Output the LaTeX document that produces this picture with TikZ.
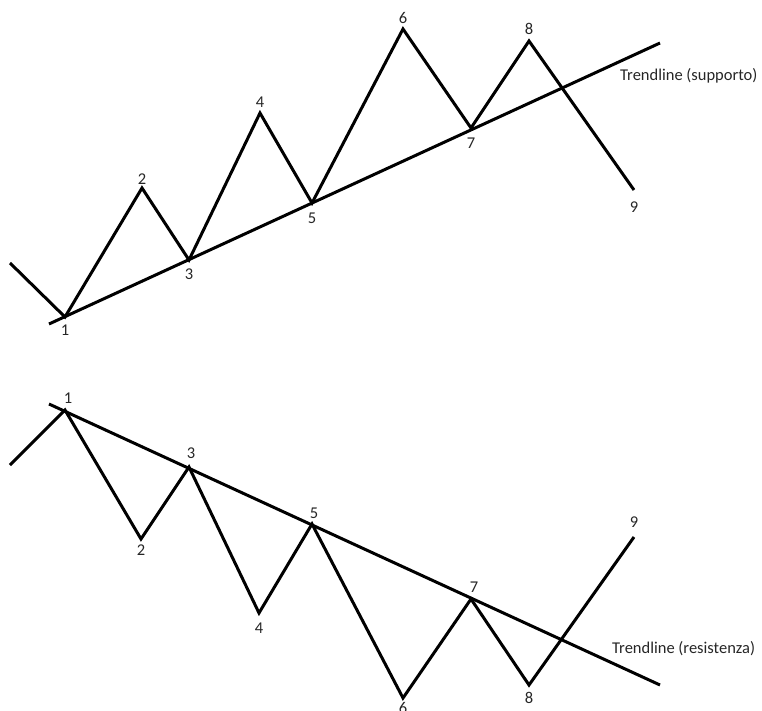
\documentclass[tikz,border=0pt]{standalone}
\usepackage{fontspec}
\setmainfont{Carlito}
\begin{document}
\begin{tikzpicture}[x=1pt,y=-1pt,
  wave/.style={line width=3pt,line join=miter,black},
  trend/.style={line width=3pt,black},
  lbl/.style={font=\fontsize{16.5}{18}\selectfont,text=black!85,inner sep=0pt}]
\useasboundingbox (0,0) rectangle (762,711);
% top chart
\coordinate (t0) at (10,263);
\coordinate (t1) at (65,317);
\coordinate (t2) at (142,188);
\coordinate (t3) at (189,260);
\coordinate (t4) at (260,113);
\coordinate (t5) at (312,203);
\coordinate (t6) at (403,29);
\coordinate (t7) at (471,128);
\coordinate (t8) at (529,41);
\coordinate (t9) at (634,190);
\coordinate (ta) at (49,324);
\coordinate (tb) at (660,43);
\draw[wave] (t0)--(t1)--(t2)--(t3)--(t4)--(t5)--(t6)--(t7)--(t8)--(t9);
\draw[trend] (ta)--(tb);
\node[lbl] (lt1) at (65,330) {1};
\node[lbl] (lt2) at (142,179) {2};
\node[lbl] (lt3) at (189,274) {3};
\node[lbl] (lt4) at (260,102) {4};
\node[lbl] (lt5) at (312,218) {5};
\node[lbl] (lt6) at (403,18) {6};
\node[lbl] (lt7) at (471,143) {7};
\node[lbl] (lt8) at (529,29) {8};
\node[lbl] (lt9) at (634,207) {9};
\node[lbl,anchor=west] (ltt) at (620,76) {Trendline (supporto)};
% bottom chart
\coordinate (b0) at (10,465);
\coordinate (b1) at (65,410);
\coordinate (b2) at (141,539);
\coordinate (b3) at (189,467);
\coordinate (b4) at (259,613);
\coordinate (b5) at (312,524);
\coordinate (b6) at (403,698);
\coordinate (b7) at (471,599);
\coordinate (b8) at (529,685);
\coordinate (b9) at (634,537);
\coordinate (ba) at (49,404);
\coordinate (bb) at (660,685);
\draw[wave] (b0)--(b1)--(b2)--(b3)--(b4)--(b5)--(b6)--(b7)--(b8)--(b9);
\draw[trend] (ba)--(bb);
\node[lbl] (lb1) at (68,398) {1};
\node[lbl] (lb2) at (141,550) {2};
\node[lbl] (lb3) at (191,453) {3};
\node[lbl] (lb4) at (259,628) {4};
\node[lbl] (lb5) at (314,513) {5};
\node[lbl] (lb6) at (403,708) {6};
\node[lbl] (lb7) at (474,587) {7};
\node[lbl] (lb8) at (529,698) {8};
\node[lbl] (lb9) at (634,522) {9};
\node[lbl,anchor=west] (lbt) at (612,649) {Trendline (resistenza)};
\end{tikzpicture}
\end{document}
